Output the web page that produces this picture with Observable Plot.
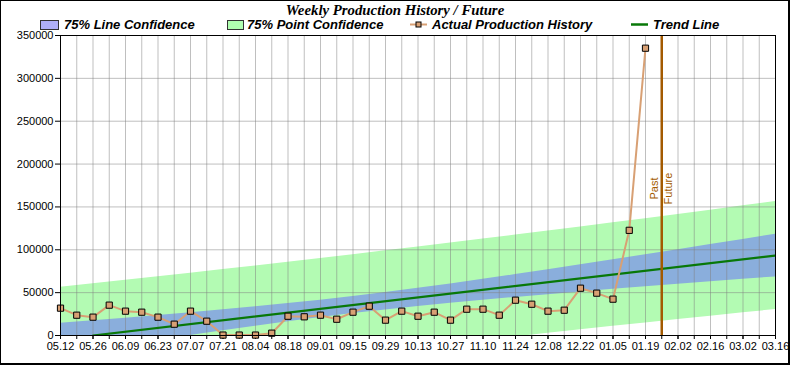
<!DOCTYPE html>
<html>
<head>
<meta charset="utf-8">
<script src="https://cdn.jsdelivr.net/npm/d3@7"></script>
<script src="https://cdn.jsdelivr.net/npm/@observablehq/plot@0.6"></script>
<style>
  html, body { margin: 0; padding: 0; background: #fff; }
  #chart { position: relative; width: 790px; height: 365px; background: #fff; overflow: hidden; }
  #header { position: relative; width: 790px; height: 30px; }
  #title { position: absolute; left: 0; top: 2px; width: 790px; text-align: center;
           font: italic bold 14.8px "Liberation Serif", "Times New Roman", serif; line-height: 16px; color: #000; }
  .lgText { position: absolute; top: 18px; font: italic bold 13px "Liberation Sans", Arial, sans-serif;
            line-height: 14px; white-space: nowrap; color: #000; }
  .lgSym { position: absolute; }
  #border { position: absolute; left: 0; top: 0; width: 790px; height: 365px; box-sizing: border-box;
            border: 1px solid #000; border-right-width: 2px; border-bottom-width: 2px; pointer-events: none; }
  svg { display: block; }
</style>
</head>
<body>
<div id="chart">
  <div id="header"></div>
  <div id="plot"></div>
  <div id="border"></div>
</div>
<script>
// ---------- data ----------
const chartTitle = "Weekly Production History / Future";
const legendLabels = ["75% Line Confidence", "75% Point Confidence", "Actual Production History", "Trend Line"];

// x tick labels, one every two weeks (week 0 = 05.12)
const xLabels = ["05.12","05.26","06.09","06.23","07.07","07.21","08.04","08.18","09.01","09.15","09.29",
                 "10.13","10.27","11.10","11.24","12.08","12.22","01.05","01.19","02.02","02.16","03.02","03.16"];
const yTicks = [0, 50000, 100000, 150000, 200000, 250000, 300000, 350000];

// weekly actual production, weeks 0..36
const actualValues = [31900, 23700, 21400, 35400, 28400, 27200, 21400, 13200, 28400, 16700,
                      500, 500, 500, 2700, 22500, 21800, 23700, 19000, 27200, 34200,
                      17900, 28400, 22500, 27200, 17900, 30700, 30700, 23700, 41200, 36500,
                      28400, 29500, 55200, 49400, 42400, 122700, 335200];

// trend line end points (week, value)
const trendWeeks = [2, 44];
const trendValues = [0, 93300];

// confidence bands sampled every two weeks
const bandWeeks = [0,2,4,6,8,10,12,14,16,18,20,22,24,26,28,30,32,34,36,38,40,42,44];
const lineLo  = [-23120,-17220,-11380,-5630,40,5570,10930,16080,20960,25560,29850,33850,37580,41100,44460,47680,50810,53850,56830,59770,62670,65540,68380];
const lineHi  = [14240,17220,20260,23390,26620,29970,33490,37220,41220,45510,50110,54990,60140,65500,71040,76700,82450,88290,94190,100150,106130,112140,118180];
const pointLo = [-65250,-60380,-55550,-50780,-46050,-41370,-36750,-32180,-27660,-23180,-18770,-14410,-10100,-5840,-1630,2530,6640,10690,14700,18670,22580,26450,30280];
const pointHi = [56370,60380,64430,68540,72700,76910,81170,85480,89840,94260,98730,103250,107820,112440,117130,121850,126620,131450,136320,141250,146220,151230,156280];

// past / future divider
const dividerWeek = 37;
const dividerLabels = ["Past", "Future"];
const dividerLabelValue = 171500;

const lastWeek = 44;

// ---------- colours ----------
const cPoint = "#b3fbb3", cLine = "#8aaedc", cTrend = "#087808", cActual = "#d8a074", cDivider = "#a35a00";
const cLgLine = "#b0b0f8", cLgPoint = "#b0ffb0";

// ---------- header (title + legend) ----------
const header = document.getElementById("header");
const t = document.createElement("div"); t.id = "title"; t.textContent = chartTitle; header.appendChild(t);

function addText(txt, left) {
  const s = document.createElement("div"); s.className = "lgText"; s.style.left = left + "px"; s.textContent = txt;
  header.appendChild(s);
}
function addSym(html, left, top) {
  const s = document.createElement("div"); s.className = "lgSym"; s.style.left = left + "px"; s.style.top = top + "px";
  s.innerHTML = html; header.appendChild(s);
}
addSym(`<svg width="20" height="11"><rect x="0.5" y="0.5" width="18" height="9" fill="${cLgLine}" stroke="#333"/></svg>`, 40, 20);
addText(legendLabels[0], 64);
addSym(`<svg width="20" height="11"><rect x="0.5" y="0.5" width="16" height="9" fill="${cLgPoint}" stroke="#333"/></svg>`, 227, 20);
addText(legendLabels[1], 247);
addSym(`<svg width="18" height="11"><line x1="0" x2="17" y1="5.5" y2="5.5" stroke="${cActual}" stroke-width="2"/><rect x="6" y="3" width="5" height="5" fill="${cActual}" stroke="#000"/></svg>`, 410, 19);
addText(legendLabels[2], 432);
addSym(`<svg width="18" height="11"><line x1="0" x2="17" y1="5.5" y2="5.5" stroke="${cTrend}" stroke-width="2.5"/></svg>`, 631, 19);
addText(legendLabels[3], 653);

// ---------- plot ----------
const bands = bandWeeks.map((w, i) => ({w, lLo: lineLo[i], lHi: lineHi[i], pLo: pointLo[i], pHi: pointHi[i]}));
const actual = actualValues.map((v, i) => ({w: i, v}));
const trend = trendWeeks.map((w, i) => ({w, v: trendValues[i]}));
const allWeeks = d3.range(0, lastWeek + 1);
const labelWeeks = xLabels.map((_, i) => i * 2);

const chart = Plot.plot({
  width: 790, height: 335,
  marginLeft: 60, marginRight: 15, marginTop: 5, marginBottom: 30,
  x: {domain: [0, lastWeek], axis: null},
  y: {domain: [0, 350000], axis: null},
  style: {fontFamily: "'Liberation Sans', Arial, sans-serif", fontSize: "11px", color: "#000", background: "transparent", overflow: "visible"},
  marks: [
    Plot.areaY(bands, {x: "w", y1: "pLo", y2: "pHi", fill: cPoint, clip: true}),
    Plot.areaY(bands, {x: "w", y1: "lLo", y2: "lHi", fill: cLine, clip: true}),
    Plot.gridX(allWeeks, {stroke: "#808080", strokeOpacity: 0.5}),
    Plot.gridY(yTicks, {stroke: "#808080", strokeOpacity: 0.5}),
    Plot.axisY(yTicks, {tickFormat: d => String(d), tickSize: 5, tickPadding: 2, fontSize: 11, label: null}),
    Plot.axisX(allWeeks, {tickFormat: () => "", tickSize: 4, label: null}),
    Plot.axisX(labelWeeks, {tickFormat: w => xLabels[w / 2], tickSize: 4, tickPadding: 3, fontSize: 11, label: null}),
    Plot.lineY(trend, {x: "w", y: "v", stroke: cTrend, strokeWidth: 2.2, clip: true}),
    Plot.lineY(actual, {x: "w", y: "v", stroke: cActual, strokeWidth: 2}),
    Plot.dot(actual, {x: "w", y: "v", symbol: "square", r: 3.5, fill: cActual, stroke: "#000", strokeWidth: 1}),
    Plot.ruleX([dividerWeek], {stroke: cDivider, strokeWidth: 2.5}),
    Plot.text([dividerLabels[0]], {x: () => dividerWeek, y: () => dividerLabelValue, text: d => d, rotate: -90, dx: -7, fill: cDivider, fontSize: 11}),
    Plot.text([dividerLabels[1]], {x: () => dividerWeek, y: () => dividerLabelValue, text: d => d, rotate: -90, dx: 7, fill: cDivider, fontSize: 11}),
    Plot.frame({stroke: "#000"})
  ]
});
document.getElementById("plot").appendChild(chart);
</script>
</body>
</html>
